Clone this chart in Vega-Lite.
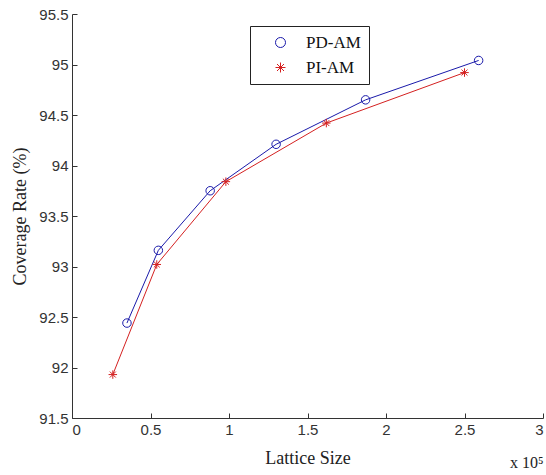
{
  "$schema": "https://vega.github.io/schema/vega-lite/v6.json",
  "width": 471,
  "height": 404,
  "autosize": "none",
  "padding": {"left": 72, "top": 14, "right": 3, "bottom": 57},
  "background": "white",
  "title": {"text": "x 10⁵", "orient": "bottom", "anchor": "end", "font": "Liberation Serif", "fontSize": 16, "fontWeight": "normal", "color": "#222", "offset": -12},
  "data": {
    "values": [
      {"series": "PD-AM", "x": 0.35, "y": 92.44},
      {"series": "PD-AM", "x": 0.55, "y": 93.16},
      {"series": "PD-AM", "x": 0.88, "y": 93.75},
      {"series": "PD-AM", "x": 1.30, "y": 94.21},
      {"series": "PD-AM", "x": 1.87, "y": 94.65},
      {"series": "PD-AM", "x": 2.59, "y": 95.04},
      {"series": "PI-AM", "x": 0.26, "y": 91.93},
      {"series": "PI-AM", "x": 0.54, "y": 93.02},
      {"series": "PI-AM", "x": 0.98, "y": 93.84},
      {"series": "PI-AM", "x": 1.62, "y": 94.42},
      {"series": "PI-AM", "x": 2.50, "y": 94.92}
    ]
  },
  "encoding": {
    "x": {"field": "x", "type": "quantitative", "scale": {"domain": [0, 3], "nice": false, "zero": false},
      "axis": {"title": "Lattice Size", "values": [0, 0.5, 1, 1.5, 2, 2.5, 3], "format": "~g", "labelPadding": 9, "titlePadding": 12}},
    "y": {"field": "y", "type": "quantitative", "scale": {"domain": [91.5, 95.5], "nice": false, "zero": false},
      "axis": {"title": "Coverage Rate (%)", "values": [91.5, 92, 92.5, 93, 93.5, 94, 94.5, 95, 95.5], "format": "~g", "labelPadding": 9, "titlePadding": 9}},
    "color": {"field": "series", "type": "nominal",
      "scale": {"domain": ["PD-AM", "PI-AM"], "range": ["#1a1aaa", "#d42020"]},
      "legend": {"title": null}}
  },
  "layer": [
    {"mark": {"type": "line", "strokeWidth": 1}},
    {"mark": {"type": "point", "filled": false, "size": 72, "strokeWidth": 1, "opacity": 1},
      "encoding": {
        "shape": {"field": "series", "type": "nominal",
          "scale": {"domain": ["PD-AM", "PI-AM"], "range": ["circle", "M-1,0H1M0,-1V1M-0.7,-0.7L0.7,0.7M-0.7,0.7L0.7,-0.7"]},
          "legend": {"title": null}}
      }}
  ],
  "config": {
    "view": {"stroke": null},
    "axis": {
      "grid": false,
      "domainColor": "#333",
      "tickColor": "#333",
      "labelColor": "#333",
      "titleColor": "#222",
      "labelFont": "Liberation Sans",
      "labelFontSize": 15,
      "titleFont": "Liberation Serif",
      "titleFontSize": 18,
      "titleFontWeight": "normal",
      "tickSize": -5
    },
    "legend": {
      "orient": "none",
      "legendX": 178,
      "legendY": 12,
      "strokeColor": "#222",
      "fillColor": "white",
      "padding": 8,
      "labelFont": "Liberation Serif",
      "labelFontSize": 17,
      "labelColor": "#111",
      "symbolSize": 100,
      "symbolStrokeWidth": 1,
      "symbolFillColor": "transparent",
      "symbolOffset": 14,
      "labelOffset": 17,
      "rowPadding": 7
    }
  }
}
